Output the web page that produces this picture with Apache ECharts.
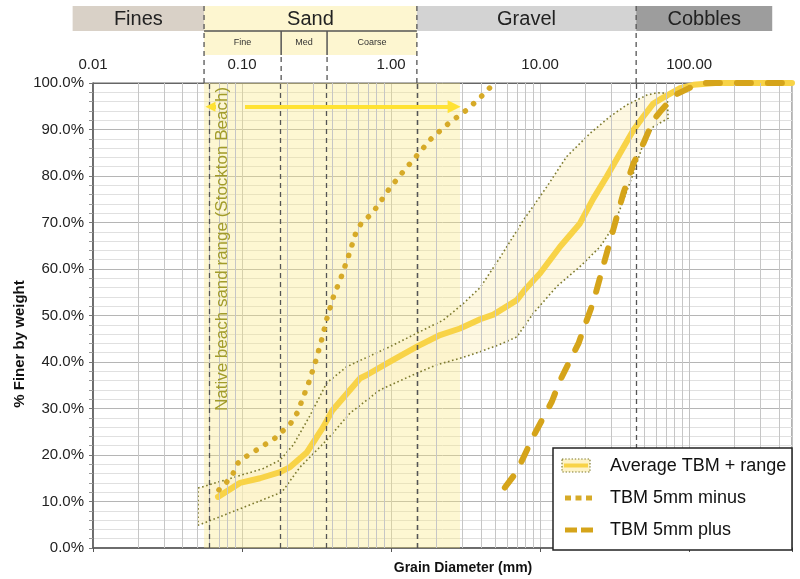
<!DOCTYPE html>
<html><head><meta charset="utf-8">
<script src="https://cdn.jsdelivr.net/npm/echarts@6/dist/echarts.min.js"></script>
<style>html,body{margin:0;padding:0;background:#fff}#c{width:800px;height:579px}</style>
</head><body><div id="c"></div>
<script>
// ---------- data ----------
const topTickLabels = ['0.01', '0.10', '1.00', '10.00', '100.00'];
const classNames = ['Fines', 'Sand', 'Gravel', 'Cobbles'];
const classBounds = [0.0073, 0.0556, 1.49, 44.1, 361];
const sandSubNames = ['Fine', 'Med', 'Coarse'];
const sandSubBounds = [0.0556, 0.183, 0.372, 1.49];
const beachSandRange = [0.0556, 2.9];
const beachArrowEnds = [0.0614, 2.65];
const beachArrowPct = 94.9;
const legendNames = ['Average TBM + range', 'TBM 5mm minus', 'TBM 5mm plus'];

const avgTBM = [[0.069,11.0],[0.097,14.0],[0.132,15.0],[0.18,16.3],[0.21,17.4],[0.273,20.6],[0.35,26.0],[0.402,29.5],[0.62,36.5],[0.687,37.2],[0.984,40.1],[1.49,43.3],[2.13,45.8],[2.9,47.2],[3.96,49.2],[4.86,50.2],[6.98,53.3],[7.93,55.6],[10,59.1],[13.6,64.8],[18.5,69.8],[22.8,75.2],[28,79.9],[34.4,84.9],[42.3,89.9],[49.3,92.8],[57.6,95.6],[65.6,96.7],[87,98.9],[107,99.6],[150,100],[490,100]];
const rangeUpper = [[0.0507,12.9],[0.0549,13.2],[0.139,17.1],[0.18,18.9],[0.221,22.2],[0.286,28.5],[0.37,35.5],[0.505,39.0],[0.984,43.3],[1.49,46.2],[2.24,49.0],[3.06,52.6],[3.96,56.0],[5.39,62.5],[7.73,70.5],[11.1,77.7],[15.1,84.2],[21.7,89.2],[29.5,92.8],[38.2,95.3],[52.0,97.4],[60.7,97.9],[71.1,97.8]];
const rangeLower = [[0.0507,4.9],[0.0549,5.3],[0.185,12.0],[0.245,17.4],[0.37,23.2],[0.53,29.0],[0.843,34.0],[1.49,37.6],[2.03,39.4],[2.9,40.8],[3.96,42.2],[5.39,43.8],[6.98,45.4],[9.02,50.5],[12.9,56.2],[18.5,60.5],[25.3,64.8],[31.0,69.1],[36.2,74.8],[42.3,80.6],[49.3,87.0],[57.6,90.6],[72.3,92.4]];
const tbm5Minus = [[0.070,12.5],[0.079,14.2],[0.087,16.0],[0.094,18.3],[0.108,19.8],[0.124,21.0],[0.145,22.4],[0.166,23.6],[0.188,25.2],[0.213,26.9],[0.234,29.0],[0.249,31.2],[0.282,35.8],[0.312,40.2],[0.343,44.9],[0.372,49.5],[0.41,54.0],[0.467,58.6],[0.522,63.1],[0.579,67.7],[0.627,69.7],[0.714,71.4],[0.802,73.3],[0.97,77.2],[1.21,81.0],[1.50,84.5],[1.88,88.2],[2.45,91.4],[3.22,94.2],[4.12,97.4],[4.67,99.2],[5.0,100]];
const tbm5Plus = [[5.8,13.0],[7.0,16.5],[9.0,24.0],[12.0,31.5],[13.6,36.0],[18.1,44.0],[22.8,53.0],[25.9,59.5],[31.0,68.5],[36.2,76.3],[42.3,82.7],[49.3,87.0],[57.6,92.0],[63.8,93.8],[80,97.4],[100,98.9],[120,100],[490,100]];

// ---------- styles ----------
const FONT = '"Liberation Sans", Arial, sans-serif';
const X_MIN = 0.01, X_MAX = 490;
const C_AVG = '#F8D347', C_MINUS = '#D6AA28', C_PLUS = '#D5A41A', C_RANGE = '#7d7a2e';
const C_ARROW = '#FFE234', C_TEXT_OLIVE = '#A29C2A';

// minor log gridlines 2..9 per decade
const minorGrid = [];
for (let e = -2; e <= 2; e++) for (let k = 2; k <= 9; k++) {
  const v = +(k * Math.pow(10, e)).toPrecision(3);
  if (v < X_MAX) minorGrid.push(v);
}

const chart = echarts.init(document.getElementById('c'), null, {renderer: 'canvas'});

const option = {
  animation: false,
  backgroundColor: '#fff',
  grid: {left: 93, right: 8, top: 83, bottom: 31, show: true, borderColor: '#666', borderWidth: 1,
         backgroundColor: 'transparent', containLabel: false, outerBoundsMode: 'none'},
  xAxis: [
    {type: 'log', logBase: 10, min: X_MIN, max: X_MAX, position: 'bottom',
     axisLine: {show: true, lineStyle: {color: '#555', width: 1.5}},
     axisTick: {show: true, length: 4, lineStyle: {color: '#555'}},
     axisLabel: {show: false},
     splitLine: {show: true, lineStyle: {color: '#c2c2c2', width: 1}}},
    {type: 'log', logBase: 10, min: X_MIN, max: X_MAX, position: 'top',
     axisLine: {show: true, lineStyle: {color: '#666', width: 1}},
     axisTick: {show: false}, splitLine: {show: false},
     axisLabel: {show: true, margin: 11, fontSize: 15, color: '#222', fontFamily: FONT, showMaxLabel: false,
       formatter: v => {
         const l = Math.log10(v), r = Math.round(l);
         return Math.abs(l - r) < 1e-6 ? (topTickLabels[r + 2] || '') : '';
       }}}
  ],
  yAxis: {type: 'value', min: 0, max: 100, interval: 10,
    axisLine: {show: true, lineStyle: {color: '#555', width: 1.5}},
    axisTick: {show: true, length: 4, lineStyle: {color: '#777'}},
    minorTick: {show: true, splitNumber: 5, length: 4, lineStyle: {color: '#999'}},
    axisLabel: {formatter: v => v.toFixed(1) + '%', fontSize: 15, color: '#222', margin: 9, fontFamily: FONT},
    splitLine: {show: true, lineStyle: {color: '#b5b5b5', width: 1}},
    minorSplitLine: {show: true, lineStyle: {color: '#e0e0e0', width: 1}}
  },
  series: [
    { // minor vertical gridlines + class boundaries
      type: 'line', name: '_grid', data: [], silent: true, z: 1,
      markLine: {silent: true, symbol: 'none', animation: false, label: {show: false},
        lineStyle: {color: '#c6c6c6', width: 1, type: 'solid'},
        data: minorGrid.map(v => ({xAxis: v}))
          .concat([...sandSubBounds, classBounds[2], classBounds[3]].map(v => ({xAxis: v,
            lineStyle: {color: '#555', width: 1.3, type: [5, 4]}})))}
    },
    { // beach sand range shading + arrow
      type: 'line', name: '_beach', data: [], silent: true, z: 2,
      markArea: {silent: true, itemStyle: {color: 'rgba(250,232,130,0.36)'},
        data: [[{xAxis: beachSandRange[0]}, {xAxis: beachSandRange[1]}]]},
      markLine: {silent: true, animation: false, label: {show: false},
        lineStyle: {color: C_ARROW, width: 4, type: 'solid'},
        data: [
          [{coord: [0.0669, beachArrowPct], symbol: 'none'}, {coord: [beachArrowEnds[0], beachArrowPct], symbol: 'triangle', symbolSize: [10, 10]}],
          [{coord: [0.1047, beachArrowPct], symbol: 'none'}, {coord: [beachArrowEnds[1], beachArrowPct], symbol: 'triangle', symbolSize: [13, 13]}]
        ]}
    },
    { // range band
      type: 'custom', name: legendNames[0] + ' band', z: 3, silent: true,
      data: rangeUpper, encode: {x: 0, y: 1},
      renderItem: (params, api) => {
        if (params.dataIndex !== 0) return null;
        const pts = rangeUpper.map(p => api.coord(p))
          .concat(rangeLower.slice().reverse().map(p => api.coord(p)));
        return {type: 'polygon', shape: {points: pts},
          style: {fill: 'rgba(253,242,200,0.55)', stroke: C_RANGE, lineWidth: 1.6, lineDash: [1.6, 2.6]}};
      }
    },
    {type: 'line', name: legendNames[0], data: avgTBM, symbol: 'none', showSymbol: false, z: 4,
     lineStyle: {color: C_AVG, width: 6, cap: 'round', join: 'round'}},
    {type: 'line', name: legendNames[1], data: tbm5Minus, symbol: 'none', showSymbol: false, z: 5,
     lineStyle: {color: C_MINUS, width: 5.5, type: [0.1, 11], cap: 'round', join: 'round'}},
    {type: 'line', name: legendNames[2], data: tbm5Plus, symbol: 'none', showSymbol: false, z: 6,
     lineStyle: {color: C_PLUS, width: 6, type: [14, 17], cap: 'round', join: 'round'}}
  ]
};
chart.setOption(option);

// ---------- header, titles, legend (positions via the axis scale) ----------
const px = v => chart.convertToPixel({xAxisIndex: 0}, v);
const g = [];
const boxFill = ['#d9d1c7', '#fdf6d0', '#d3d3d3', '#9d9d9d'];
for (let i = 0; i < classNames.length; i++) {
  const x0 = px(classBounds[i]), x1 = px(classBounds[i + 1]);
  g.push({type: 'rect', shape: {x: x0, y: 6, width: x1 - x0, height: 25}, style: {fill: boxFill[i]}, z: 10});
  g.push({type: 'text', x: (x0 + x1) / 2, y: 19, z: 12,
    style: {text: classNames[i], font: '20px ' + FONT, fill: '#222', textAlign: 'center', textVerticalAlign: 'middle'}});
}
{
  const x0 = px(sandSubBounds[0]), x1 = px(sandSubBounds[3]);
  g.push({type: 'rect', shape: {x: x0, y: 31, width: x1 - x0, height: 24}, style: {fill: '#fdf6d0'}, z: 10});
  g.push({type: 'line', shape: {x1: x0, y1: 31, x2: x1, y2: 31}, style: {stroke: '#555', lineWidth: 1.5}, z: 11});
  for (let i = 0; i < sandSubNames.length; i++) {
    const a = px(sandSubBounds[i]), b = px(sandSubBounds[i + 1]);
    g.push({type: 'text', x: (a + b) / 2, y: 43, z: 12,
      style: {text: sandSubNames[i], font: '9px ' + FONT, fill: '#333', textAlign: 'center', textVerticalAlign: 'middle'}});
  }
  [sandSubBounds[1], sandSubBounds[2]].forEach(v => {
    const x = px(v);
    g.push({type: 'line', shape: {x1: x, y1: 31, x2: x, y2: 55}, style: {stroke: '#555', lineWidth: 1.5}, z: 11});
    g.push({type: 'line', shape: {x1: x, y1: 57, x2: x, y2: 83}, style: {stroke: '#555', lineWidth: 1.3, lineDash: [5, 4]}, z: 11});
  });
  [classBounds[1], classBounds[2], classBounds[3]].forEach(v => {
    const x = px(v);
    g.push({type: 'line', shape: {x1: x, y1: 6, x2: x, y2: 83}, style: {stroke: '#555', lineWidth: 1.3, lineDash: [5, 4]}, z: 11});
  });
}
// rotated beach label
g.push({type: 'text', x: px(beachSandRange[0]) + 18, y: 249, rotation: Math.PI / 2, z: 12,
  style: {text: 'Native beach sand range (Stockton Beach)', font: '17px ' + FONT, fill: C_TEXT_OLIVE,
          textAlign: 'center', textVerticalAlign: 'middle'}});
// axis titles
g.push({type: 'text', x: 20, y: 344, rotation: Math.PI / 2, z: 12,
  style: {text: '% Finer by weight', font: 'bold 15px ' + FONT, fill: '#111', textAlign: 'center', textVerticalAlign: 'middle'}});
g.push({type: 'text', x: 463, y: 568, z: 12,
  style: {text: 'Grain Diameter (mm)', font: 'bold 14px ' + FONT, fill: '#111', textAlign: 'center', textVerticalAlign: 'middle'}});
// legend
g.push({type: 'rect', shape: {x: 553, y: 448, width: 239, height: 102}, style: {fill: '#fff', stroke: '#222', lineWidth: 1.5}, z: 20});
g.push({type: 'rect', shape: {x: 562, y: 459, width: 28, height: 13}, style: {fill: '#fdf3c8', stroke: C_RANGE, lineWidth: 1.2, lineDash: [1.4, 1.8]}, z: 21});
g.push({type: 'line', shape: {x1: 564, y1: 465.5, x2: 588, y2: 465.5}, style: {stroke: C_AVG, lineWidth: 4}, z: 22});
[0, 1, 2].forEach(i => g.push({type: 'rect', shape: {x: 565 + i * 10.5, y: 495.5, width: 6, height: 5}, style: {fill: C_MINUS}, z: 21}));
[0, 1].forEach(i => g.push({type: 'rect', shape: {x: 565 + i * 16, y: 527.5, width: 12, height: 5}, style: {fill: C_PLUS}, z: 21}));
legendNames.forEach((n, i) => g.push({type: 'text', x: 610, y: 466 + i * 32, z: 22,
  style: {text: n, font: '18px ' + FONT, fill: '#111', textAlign: 'left', textVerticalAlign: 'middle'}}));

chart.setOption({graphic: {elements: g}});
</script></body></html>
